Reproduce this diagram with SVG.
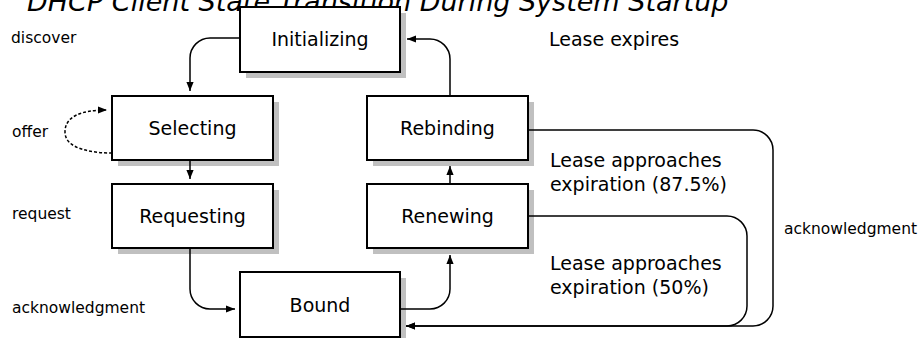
<svg xmlns="http://www.w3.org/2000/svg" width="924" height="338" viewBox="0 0 924 338">
<style>
  .shadow { fill: #c0c0c0; }
  .box { fill: #ffffff; stroke: #000000; stroke-width: 2; }
  .label { font-family: "DejaVu Sans", Verdana, sans-serif; font-size: 19px; fill: #000; text-anchor: middle; }
  .small { font-family: "DejaVu Sans", Verdana, sans-serif; font-size: 15.5px; fill: #000; }
  .note { font-family: "DejaVu Sans", Verdana, sans-serif; font-size: 19px; fill: #000; }
  .title { font-family: "DejaVu Sans", Verdana, sans-serif; font-size: 27px; font-style: italic; fill: #000; }
  .conn { fill: none; stroke: #000; stroke-width: 1.5; marker-end: url(#arrow); }
  .dashed { stroke-dasharray: 3 2; }
</style>
<defs>
  <marker id="arrow" viewBox="0 0 10 10" refX="10" refY="5" markerWidth="9" markerHeight="9" markerUnits="userSpaceOnUse" orient="auto">
    <path d="M0,1 L10,5 L0,9 z" fill="#000"/>
  </marker>
</defs>
<rect width="924" height="338" fill="#ffffff"/>
<text class="title" x="27" y="11">DHCP Client State Transition During System Startup</text>

<g id="initializing">
  <rect class="shadow" x="246" y="13" width="160" height="65"/>
  <rect class="box" x="240" y="7" width="160" height="65"/>
  <text class="label" x="320" y="46">Initializing</text>
</g>
<g id="selecting">
  <rect class="shadow" x="118" y="102" width="161" height="64"/>
  <rect class="box" x="112" y="96" width="161" height="64"/>
  <text class="label" x="192.5" y="135">Selecting</text>
</g>
<g id="requesting">
  <rect class="shadow" x="118" y="190" width="161" height="64"/>
  <rect class="box" x="112" y="184" width="161" height="64"/>
  <text class="label" x="192.5" y="223">Requesting</text>
</g>
<g id="bound">
  <rect class="shadow" x="246" y="278" width="160" height="65"/>
  <rect class="box" x="240" y="272" width="160" height="65"/>
  <text class="label" x="320" y="312">Bound</text>
</g>
<g id="rebinding">
  <rect class="shadow" x="373" y="102" width="161" height="64"/>
  <rect class="box" x="367" y="96" width="161" height="64"/>
  <text class="label" x="447.5" y="135">Rebinding</text>
</g>
<g id="renewing">
  <rect class="shadow" x="373" y="190" width="161" height="64"/>
  <rect class="box" x="367" y="184" width="161" height="64"/>
  <text class="label" x="447.5" y="223">Renewing</text>
</g>

<g id="connectors">
  <path class="conn" d="M240,38 H210 A20,20 0 0 0 190,58 V91"/>
  <path class="conn dashed" d="M112,153 C95,153 65,150 65,132 C65,117 80,110 107,110"/>
  <path class="conn" d="M190,161 V179"/>
  <path class="conn" d="M190,249 V289 A20,20 0 0 0 210,309 H235"/>
  <path class="conn" d="M401,309 H430 A20,20 0 0 0 450,289 V255"/>
  <path class="conn" d="M450,183 V166"/>
  <path class="conn" d="M450,95 V59 A20,20 0 0 0 430,39 H407"/>
  <path class="conn" d="M529,216 H727 A20,20 0 0 1 747,236 V306 A20,20 0 0 1 727,326 H406"/>
  <path class="conn" d="M529,130 H753 A20,20 0 0 1 773,150 V306 A20,20 0 0 1 753,326 H406"/>
</g>

<g id="labels">
  <text class="small" x="11" y="43">discover</text>
  <text class="small" x="12" y="137">offer</text>
  <text class="small" x="12" y="219">request</text>
  <text class="small" x="12" y="313">acknowledgment</text>
  <text class="small" x="784" y="234">acknowledgment</text>
  <text class="note" x="549" y="46">Lease expires</text>
  <text class="note" x="550" y="167">Lease approaches</text>
  <text class="note" x="550" y="191">expiration (87.5%)</text>
  <text class="note" x="550" y="270">Lease approaches</text>
  <text class="note" x="550" y="294">expiration (50%)</text>
</g>
</svg>
